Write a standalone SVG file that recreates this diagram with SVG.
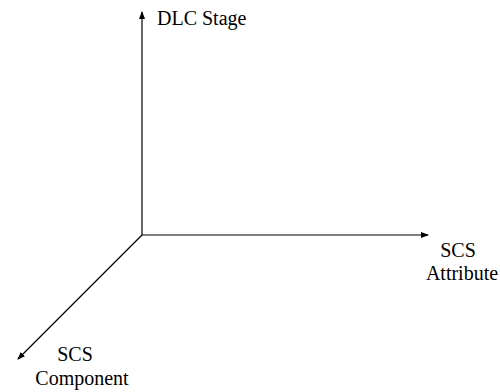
<svg xmlns="http://www.w3.org/2000/svg" width="500" height="392" viewBox="0 0 500 392">
<style>
.ax{stroke:#000;stroke-width:1.2;fill:none;marker-end:url(#ah)}
.t{font-family:"Liberation Serif","Times New Roman",Tinos,"DejaVu Serif",serif;font-size:20px;fill:#000}
</style>
<defs>
<marker id="ah" markerWidth="8" markerHeight="6" refX="7" refY="3" orient="auto" markerUnits="userSpaceOnUse">
<path d="M0,0 L8,3 L0,6 Z" fill="#000"/>
</marker>
</defs>
<rect width="500" height="392" fill="#fff"/>
<g id="connectors">
<line class="ax" x1="142" y1="235" x2="142" y2="12"/>
<line class="ax" x1="142" y1="235" x2="428" y2="235"/>
<line class="ax" x1="142" y1="235" x2="18" y2="359"/>
</g>
<g id="dlc"><text class="t" x="157" y="25">DLC Stage</text></g>
<g id="attr"><text class="t" x="458" y="257" text-anchor="middle">SCS</text><text class="t" x="462" y="280" text-anchor="middle">Attribute</text></g>
<g id="comp"><text class="t" x="75" y="361" text-anchor="middle">SCS</text><text class="t" x="82" y="385" text-anchor="middle">Component</text></g>
</svg>
